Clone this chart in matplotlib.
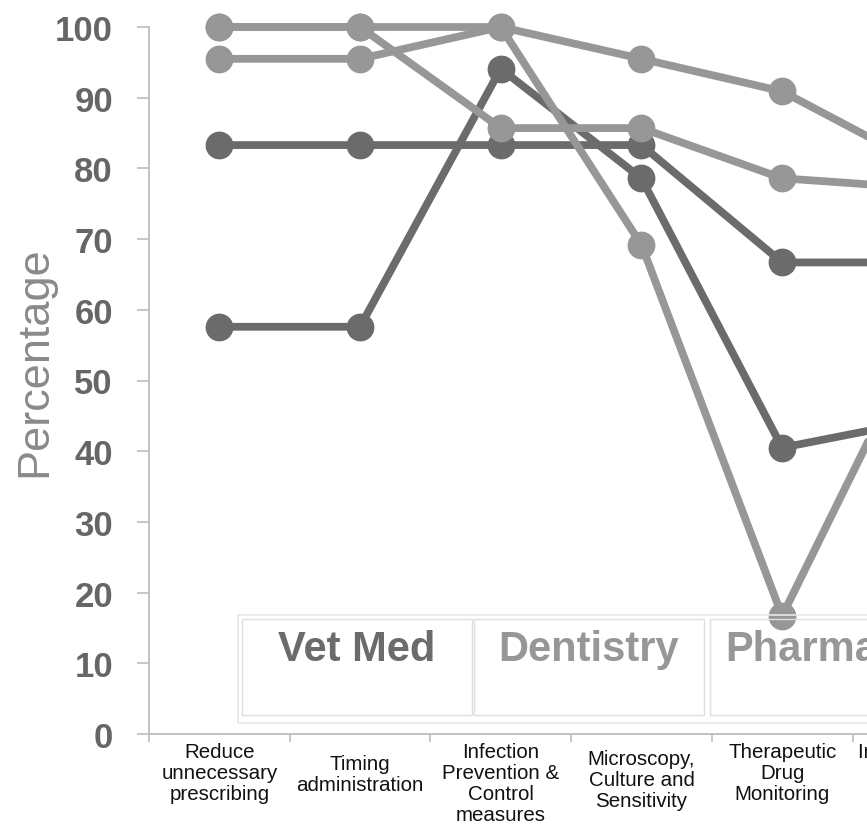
import matplotlib.pyplot as plt
from matplotlib.patches import Rectangle

categories = [
    "Reduce\nunnecessary\nprescribing",
    "Timing\nadministration",
    "Infection\nPrevention &\nControl\nmeasures",
    "Microscopy,\nCulture and\nSensitivity",
    "Therapeutic\nDrug\nMonitoring",
    "Intravenous to\noral switch",
]

# percentage per category for each programme line
dark_a = [57.6, 57.6, 94.1, 78.6, 40.5, 44.4]
dark_b = [83.3, 83.3, 83.3, 83.3, 66.7, 66.7]
light_a = [95.5, 95.5, 100.0, 95.5, 90.9, 80.4]
light_b = [100.0, 100.0, 85.7, 85.7, 78.6, 77.2]
light_c = [100.0, 100.0, 100.0, 69.2, 16.7, 57.1]

programmes = ["Vet Med", "Dentistry", "Pharmacy"]

DARK = "#6b6b6b"
LIGHT = "#979797"
programme_colors = [DARK, LIGHT, LIGHT]

W, H = 867, 837
plt.rcParams["font.family"] = ["Liberation Sans", "DejaVu Sans"]

fig = plt.figure(figsize=(W / 100, H / 100), dpi=100)
ax = fig.add_axes([149 / W, 102 / H, 718 / W, 707 / H])

x = list(range(len(categories)))
for series, color in [(dark_a, DARK), (dark_b, DARK),
                      (light_a, LIGHT), (light_b, LIGHT), (light_c, LIGHT)]:
    ax.plot(x, series, color=color, lw=5.6, marker="o", ms=19,
            solid_capstyle="round", zorder=3, clip_on=False)

# axes styling
for side in ["top", "right"]:
    ax.spines[side].set_visible(False)
for side in ["left", "bottom"]:
    ax.spines[side].set_color("#bdbdbd")
    ax.spines[side].set_linewidth(1.3)

ax.set_yticks(range(0, 101, 10))
ax.tick_params(axis="y", length=9, width=1.2, color="#bdbdbd", pad=17,
               labelsize=25, labelcolor="#666666")
for lbl in ax.get_yticklabels():
    lbl.set_fontweight("bold")

# category boundaries as short ticks, labels drawn separately
ax.set_xticks([i + 0.5 for i in range(-1, len(categories))])
ax.set_xticklabels([])
ax.tick_params(axis="x", length=6, width=1.2, color="#bdbdbd")

ax.set_ylim(0, 100)
ax.set_xlim(-0.5, (W - 219.35) / 140.7)

label_drop = [0, 12, 0, 7, 0, 0]
for i, (cat, drop) in enumerate(zip(categories, label_drop)):
    ax.annotate(cat, xy=(i, 0), xycoords=("data", "axes fraction"),
                xytext=(0, -6 - drop * 0.72), textcoords="offset points",
                ha="center", va="top", fontsize=14.8, color="#111111",
                linespacing=1.12, annotation_clip=False)

fig.text(35 / W, 1 - 362 / H, "Percentage", rotation=90, ha="center",
         va="center", fontsize=32.5, color="#8a8a8a")


def fx(px):
    return px / W


def fy(py):
    return 1 - py / H


# programme table under the lines
fig.add_artist(Rectangle((fx(238), fy(724)), fx(1100) - fx(238), fy(616) - fy(724),
                         transform=fig.transFigure, fill=False,
                         edgecolor="#e8e8e8", lw=1.2, zorder=5))
cell_left = [242, 474, 710]
for left, name, color in zip(cell_left, programmes, programme_colors):
    fig.add_artist(Rectangle((fx(left), fy(716)), fx(230), fy(620) - fy(716),
                             transform=fig.transFigure, fill=False,
                             edgecolor="#dedede", lw=1.0, zorder=5))
    fig.text(fx(left + 115), fy(661), name, ha="center", va="baseline",
             fontsize=30, fontweight="bold", color=color, zorder=6)

fig.savefig("out.png", dpi=100)
